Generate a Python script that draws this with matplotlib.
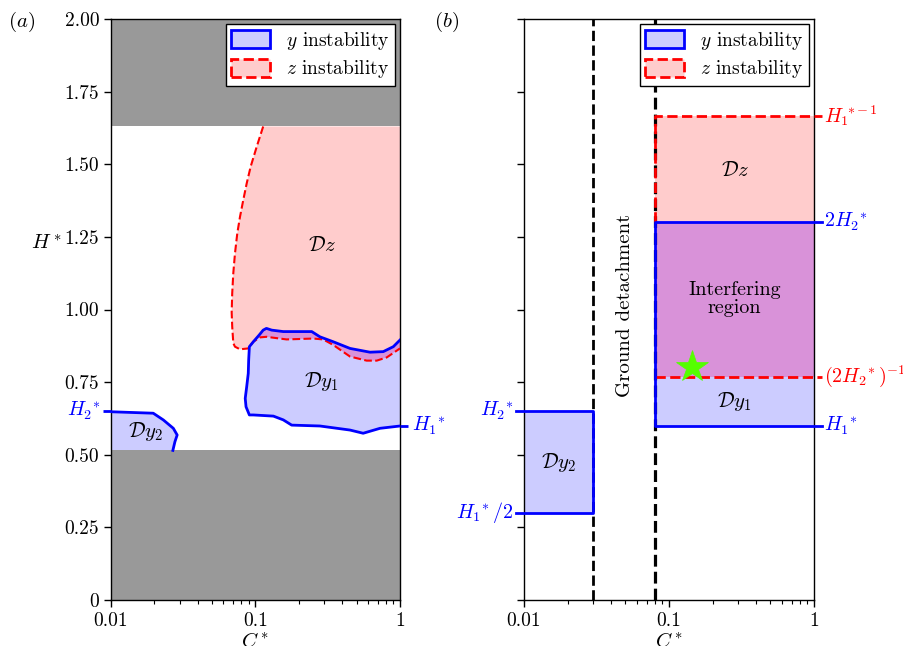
import numpy as np
import matplotlib
matplotlib.use('Agg')
import matplotlib.pyplot as plt
from matplotlib.patches import Polygon, Patch
import matplotlib.transforms as mtransforms

plt.rcParams.update({
    'font.family': 'serif',
    'font.serif': ['cmr10', 'DejaVu Serif'],
    'mathtext.fontset': 'cm',
    'axes.formatter.use_mathtext': True,
    'axes.unicode_minus': False,
    'font.size': 14,
})

# ---------------- data ----------------
H1 = 0.6          # H1*
H2 = 0.65         # H2*
C_detach = 0.03   # ground detachment limit
C_min = 0.08      # lower C* bound of Dy1 / Dz
gray_low = 0.515  # excluded band (lower)
gray_high = 1.63  # excluded band (upper)

x_ticks = [0.01, 0.1, 1]
x_ticklabels = ['0.01', '0.1', '1']
y_ticks = [0, 0.25, 0.5, 0.75, 1.0, 1.25, 1.5, 1.75, 2.0]
y_ticklabels = ['0', '0.25', '0.50', '0.75', '1.00', '1.25', '1.50', '1.75', '2.00']

# Dz boundary (panel a): left edge from top down, then lower edge to C*=1
dz_c = [0.113, 0.1019, 0.0926, 0.0869, 0.0823, 0.0781, 0.0748, 0.0721, 0.0702, 0.069,
        0.0684, 0.069, 0.0702, 0.0721, 0.0781, 0.0891, 0.0966, 0.1074, 0.119, 0.164,
        0.251, 0.294, 0.345, 0.451, 0.588, 0.69, 0.809, 1.0]
dz_h = [1.63, 1.560, 1.492, 1.434, 1.377, 1.319, 1.262, 1.193, 1.125, 1.056,
        0.990, 0.941, 0.884, 0.872, 0.863, 0.866, 0.889, 0.904, 0.906, 0.897,
        0.900, 0.897, 0.878, 0.838, 0.824, 0.824, 0.835, 0.866]

# Dy1 contour (panel a): from right-bottom, along bottom leftwards, up the left, along top to right
dy1_c = [1.0, 0.727, 0.556, 0.451, 0.279, 0.178, 0.1557, 0.133, 0.0966, 0.0907,
         0.0860, 0.0849, 0.0869, 0.0891, 0.0897, 0.0907, 0.0966, 0.106, 0.113, 0.119,
         0.1295, 0.1557, 0.245, 0.279, 0.345, 0.451, 0.62, 0.766, 0.899, 1.0]
dy1_h = [0.599, 0.591, 0.574, 0.585, 0.599, 0.602, 0.620, 0.633, 0.637, 0.637,
         0.665, 0.694, 0.734, 0.780, 0.826, 0.872, 0.889, 0.912, 0.929, 0.935,
         0.929, 0.924, 0.924, 0.906, 0.889, 0.866, 0.853, 0.855, 0.872, 0.895]

# Dy2 contour (panel a)
dy2_c = [0.01, 0.0196, 0.023, 0.027, 0.0287, 0.0277, 0.0268]
dy2_h = [0.648, 0.643, 0.62, 0.591, 0.568, 0.545, 0.515]

# star (operating point) in panel b
star_c = 0.145
star_h = 0.803

# ---------------- styles ----------------
BLUE = '#0000ff'
RED = '#ff0000'
LAV = '#ccccff'
PINK = '#ffcccc'
PURPLE = '#d992d9'
GRAY = '#999999'
FS_LAB = 14.5

fig = plt.figure(figsize=(9.04, 6.46), dpi=100)
W, Hpx = 904, 646
axa = fig.add_axes([111 / W, 46 / Hpx, 289 / W, 581 / Hpx])
axb = fig.add_axes([524 / W, 46 / Hpx, 290 / W, 581 / Hpx])

for ax in (axa, axb):
    ax.set_xscale('log')
    ax.set_xlim(0.01, 1)
    ax.set_ylim(0, 2)
    ax.set_xticks(x_ticks)
    ax.set_xticklabels(x_ticklabels)
    ax.set_yticks(y_ticks)
    ax.tick_params(which='major', direction='out', length=5, width=1, labelsize=14)
    ax.tick_params(which='minor', direction='out', length=3, width=0.8)
    for s in ax.spines.values():
        s.set_linewidth(1)
    ax.text(0.5, -0.055, '$C^*$', transform=ax.transAxes, ha='center', va='top', fontsize=15)

axa.set_yticklabels(y_ticklabels)
axb.set_yticklabels([])

def ext(side):
    lo, hi = np.log10(0.01), np.log10(1)
    if side == 'right':
        return 10 ** (hi + 0.026 * (hi - lo))
    return 10 ** (lo - 0.026 * (hi - lo))

def side_tick(ax, y, side, color, ls='-', lw=2):
    trans = mtransforms.blended_transform_factory(ax.transAxes, ax.transData)
    xs = [-0.027, 0] if side == 'left' else [1, 1.027]
    ax.plot(xs, [y, y], transform=trans, color=color, lw=lw, ls=ls,
            clip_on=False, solid_capstyle='butt', zorder=6)

# ---------------- panel (a) ----------------
pink_poly = Polygon(np.column_stack([dz_c + [1.0], dz_h + [gray_high]]), closed=True,
                    fc=PINK, ec='none', zorder=1)
axa.add_patch(pink_poly)
blue_poly = Polygon(np.column_stack([dy1_c, dy1_h]), closed=True, fc=LAV, ec='none', zorder=1.1)
axa.add_patch(blue_poly)
purple_poly = Polygon(np.column_stack([dy1_c, dy1_h]), closed=True, fc=PURPLE, ec='none', zorder=1.2)
axa.add_patch(purple_poly)
purple_poly.set_clip_path(pink_poly)

dy2_poly = Polygon(np.column_stack([dy2_c + [0.01], dy2_h + [gray_low]]), closed=True,
                   fc=LAV, ec='none', zorder=1.1)
axa.add_patch(dy2_poly)

axa.axhspan(0, gray_low, color=GRAY, lw=0, zorder=2)
axa.axhspan(gray_high, 2, color=GRAY, lw=0, zorder=2)

axa.plot(dz_c, dz_h, color=RED, ls='--', lw=1.5, zorder=3)
axa.plot(dy1_c, dy1_h, color=BLUE, lw=2, zorder=4)
axa.plot(dy2_c, dy2_h, color=BLUE, lw=2, zorder=4)

ta = mtransforms.blended_transform_factory(axa.transAxes, axa.transData)
side_tick(axa, H2, 'left', BLUE)
side_tick(axa, H1, 'right', BLUE)
axa.text(-0.036, H2, r'$H_2\!{}^*$', transform=ta, ha='right', va='center', color=BLUE, fontsize=FS_LAB)
axa.text(1.042, H1, r'$H_1\!{}^*$', transform=ta, ha='left', va='center', color=BLUE, fontsize=FS_LAB)

axa.text(0.287, 1.222, r'$\mathcal{D}z$', ha='center', va='center', fontsize=15, zorder=7)
axa.text(0.287, 0.752, r'$\mathcal{D}y_1$', ha='center', va='center', fontsize=15, zorder=7)
axa.text(0.0172, 0.579, r'$\mathcal{D}y_2$', ha='center', va='center', fontsize=15, zorder=7)
axa.text(-0.225, 0.613, '$H^*$', transform=axa.transAxes, ha='center', va='center', fontsize=15)

# ---------------- panel (b) ----------------
axb.fill_between([0.01, C_detach], H1 / 2, H2, color=LAV, lw=0, zorder=1)
axb.fill_between([C_min, 1], H1, 1 / (2 * H2), color=LAV, lw=0, zorder=1)
axb.fill_between([C_min, 1], 1 / (2 * H2), 2 * H2, color=PURPLE, lw=0, zorder=1)
axb.fill_between([C_min, 1], 2 * H2, 1 / H1, color=PINK, lw=0, zorder=1)

axb.axvline(C_detach, color='k', ls='--', lw=2, zorder=2)
axb.axvline(C_min, color='k', ls='--', lw=2.3, zorder=2)

# red dashed z-instability bounds
axb.plot([C_min, C_min, ext('right')], [2 * H2, 1 / H1, 1 / H1], color=RED, ls='--', lw=2,
         clip_on=False, zorder=3)
axb.plot([C_min, ext('right')], [1 / (2 * H2), 1 / (2 * H2)], color=RED, ls='--', lw=2,
         clip_on=False, zorder=3)
# blue y-instability bounds
axb.plot([ext('left'), C_detach, C_detach, ext('left')], [H2, H2, H1 / 2, H1 / 2], color=BLUE, lw=2,
         clip_on=False, zorder=4)
axb.plot([ext('right'), C_min, C_min, ext('right')], [2 * H2, 2 * H2, H1, H1], color=BLUE, lw=2,
         clip_on=False, zorder=4)

tb = mtransforms.blended_transform_factory(axb.transAxes, axb.transData)
axb.text(1.036, 1 / H1, r'$H_1\!{}^{*-1}$', transform=tb, ha='left', va='center', color=RED, fontsize=FS_LAB)
axb.text(1.036, 2 * H2, r'$2H_2\!{}^*$', transform=tb, ha='left', va='center', color=BLUE, fontsize=FS_LAB)
axb.text(1.036, 1 / (2 * H2), r'$(2H_2\!{}^*)^{-1}$', transform=tb, ha='left', va='center', color=RED, fontsize=FS_LAB)
axb.text(1.036, H1, r'$H_1\!{}^*$', transform=tb, ha='left', va='center', color=BLUE, fontsize=FS_LAB)
axb.text(-0.036, H2, r'$H_2\!{}^*$', transform=tb, ha='right', va='center', color=BLUE, fontsize=FS_LAB)
axb.text(-0.036, H1 / 2, r'$H_1\!{}^*/2$', transform=tb, ha='right', va='center', color=BLUE, fontsize=FS_LAB)

axb.text(0.283, 1.477, r'$\mathcal{D}z$', ha='center', va='center', fontsize=15, zorder=7)
axb.text(0.283, 1.036, 'Interfering\nregion', ha='center', va='center', fontsize=14.5,
         linespacing=1.0, zorder=7)
axb.text(0.283, 0.685, r'$\mathcal{D}y_1$', ha='center', va='center', fontsize=15, zorder=7)
axb.text(0.0173, 0.472, r'$\mathcal{D}y_2$', ha='center', va='center', fontsize=15, zorder=7)
axb.text(0.05, 1.015, 'Ground detachment', rotation=90, ha='center', va='center', fontsize=15)

axb.plot([star_c], [star_h], marker='*', ms=24, color='#55ff00', mec='#55ff00', mew=0.5,
         ls='none', zorder=8)

# ---------------- legends ----------------
handles = [Patch(fc=LAV, ec=BLUE, lw=2, label='$y$ instability'),
           Patch(fc=PINK, ec=RED, lw=2, ls='--', label='$z$ instability')]
for ax in (axa, axb):
    leg = ax.legend(handles=handles, loc='upper right', fontsize=14, fancybox=False,
                    edgecolor='k', framealpha=1, borderaxespad=0.25, borderpad=0.3,
                    handlelength=2.0, handleheight=1.0, labelspacing=0.35, handletextpad=0.8)
    leg.get_frame().set_linewidth(1)
    leg.set_zorder(10)

fig.text(22 / W, 1 - 22 / Hpx, '$(a)$', ha='center', va='center', fontsize=15)
fig.text(447 / W, 1 - 22 / Hpx, '$(b)$', ha='center', va='center', fontsize=15)

fig.savefig('out.png', dpi=100)
